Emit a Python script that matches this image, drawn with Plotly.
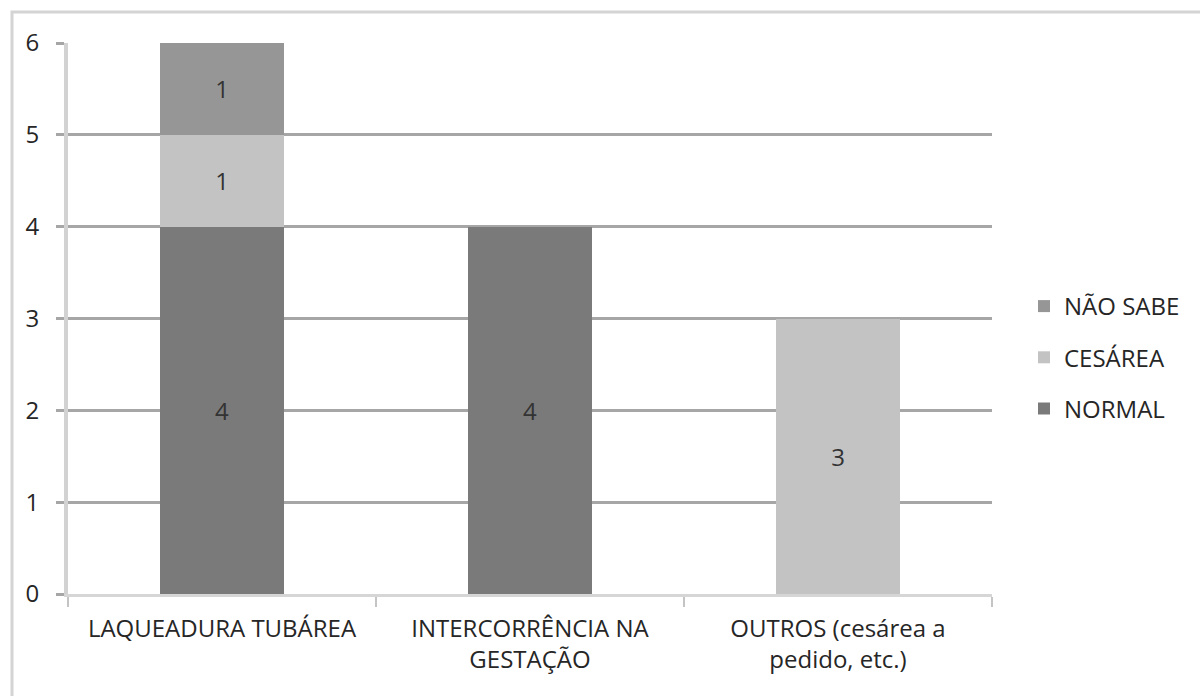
import plotly.graph_objects as go

categories = ["LAQUEADURA TUBÁREA", "INTERCORRÊNCIA NA<br>GESTAÇÃO", "OUTROS (cesárea a<br>pedido, etc.)"]
normal = [4, 4, 0]
cesarea = [1, 0, 3]
nao_sabe = [1, 0, 0]
y_ticks = [0, 1, 2, 3, 4, 5, 6]

W, H = 1200, 696
ml, mr, mt, mb = 68, 208, 43, 102
pw, ph = W - ml - mr, H - mt - mb
FONT = "Open Sans"
FS = 24
TXT = "#262626"

def px_x(x):
    return (x - ml) / pw

def px_y(y):
    return (H - mb - y) / ph

def labels(vals):
    return [str(v) if v else "" for v in vals]

fig = go.Figure()
# stacked bottom to top; legend lists top segment first
series = [
    ("NORMAL", normal, "#7a7a7a", 3),
    ("CESÁREA", cesarea, "#c3c3c3", 2),
    ("NÃO SABE", nao_sabe, "#969696", 1),
]
for name, vals, color, rank in series:
    fig.add_trace(go.Bar(
        name=name, x=categories, y=vals, legendgroup=name, legendrank=rank,
        marker=dict(color=color, line=dict(width=0)),
        text=labels(vals), textposition="inside", insidetextanchor="middle",
        textfont=dict(color="#333333", size=FS, family=FONT),
        width=0.4, hoverinfo="skip",
    ))

fig.update_layout(
    barmode="stack",
    width=W, height=H,
    margin=dict(l=ml, r=mr, t=mt, b=mb),
    paper_bgcolor="white", plot_bgcolor="white",
    font=dict(family=FONT, size=FS, color=TXT),
    showlegend=True,
    legend=dict(x=px_x(1024), y=px_y(284), xanchor="left", yanchor="top",
                traceorder="grouped", font=dict(size=FS, color=TXT),
                itemwidth=30, tracegroupgap=17, bgcolor="rgba(0,0,0,0)"),
    uniformtext=dict(mode="show", minsize=10),
    xaxis=dict(type="category", tickson="boundaries", ticks="outside", ticklen=10,
               tickcolor="#c4c4c4", tickwidth=2, showline=True, linecolor="#d6d6d6",
               linewidth=3, showgrid=False, ticklabelstandoff=11,
               tickfont=dict(size=FS, color=TXT)),
    yaxis=dict(range=[0, 6], tickvals=y_ticks, ticks="outside", ticklen=8,
               tickcolor="#a6a6a6", tickwidth=3, showgrid=True, gridcolor="#a6a6a6",
               gridwidth=3, showline=True, linecolor="#d2d2d2", linewidth=4,
               zeroline=False, ticklabelstandoff=12,
               tickfont=dict(size=FS, color=TXT)),
    shapes=[dict(type="rect", xref="paper", yref="paper",
                 x0=px_x(12), x1=px_x(1215), y0=px_y(710), y1=px_y(12),
                 line=dict(color="#d4d4d4", width=3), fillcolor="rgba(0,0,0,0)",
                 layer="below")],
)

fig.write_html("out.html")
